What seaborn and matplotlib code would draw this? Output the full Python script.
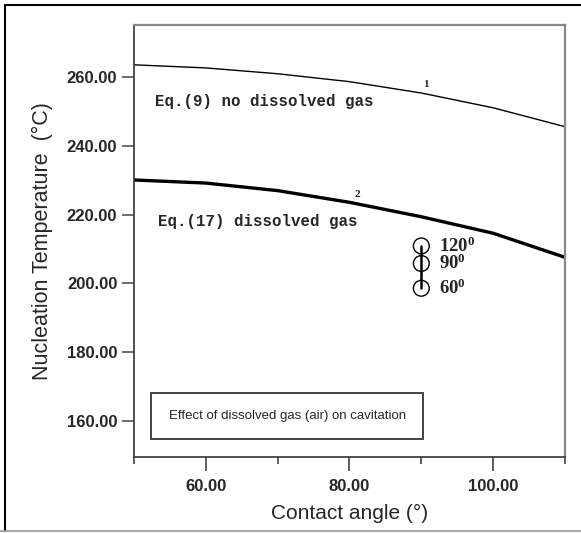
import matplotlib
matplotlib.use("Agg")
import matplotlib.pyplot as plt
import seaborn as sns
import pandas as pd
from matplotlib.patches import Rectangle
from matplotlib.lines import Line2D

# values
angle = [50, 60, 70, 80, 90, 100, 110]
temp_no_gas = [263.6, 262.7, 261.0, 258.7, 255.4, 251.1, 245.6]
temp_gas = [230.1, 229.2, 227.0, 223.6, 219.4, 214.6, 207.6]

exp_angle = [90, 90, 90]
exp_temp = [198.6, 205.8, 210.9]
exp_labels = ["60", "90", "120"]

x_ticks = [60, 80, 100]
y_ticks = [160, 180, 200, 220, 240, 260]

sns.set_style("white")
plt.rcParams["font.family"] = ["Liberation Sans", "DejaVu Sans"]
plt.rcParams["mathtext.fontset"] = "custom"
plt.rcParams["mathtext.bf"] = "Liberation Serif:bold"
plt.rcParams["mathtext.rm"] = "Liberation Serif:bold"

df1 = pd.DataFrame({"angle": angle, "T": temp_no_gas})
df2 = pd.DataFrame({"angle": angle, "T": temp_gas})
dfe = pd.DataFrame({"angle": exp_angle, "T": exp_temp})

fig = plt.figure(figsize=(5.81, 5.33), dpi=100)
ax = fig.add_axes([0.2306, 0.1432, 0.7418, 0.810])

sns.lineplot(data=df1, x="angle", y="T", color="black", linewidth=1.0, ax=ax)
sns.lineplot(data=df2, x="angle", y="T", color="black", linewidth=2.4, ax=ax)
sns.lineplot(data=dfe, x="angle", y="T", color="black", linewidth=1.8,
             estimator=None, sort=False, ax=ax)
sns.scatterplot(data=dfe, x="angle", y="T", s=130, facecolor="none",
                edgecolor="black", linewidth=1.0, zorder=5, ax=ax)

ax.set_xlim(50, 110)
ax.set_ylim(149.6, 275.2)
ax.set_xticks(x_ticks)
ax.set_xticks([50, 70, 90, 110], minor=True)
ax.set_yticks(y_ticks)
ax.set_xticklabels([f"{v:.2f}" for v in x_ticks], fontsize=12, fontweight="bold")
ax.set_yticklabels([f"{v:.2f}" for v in y_ticks], fontsize=12, fontweight="bold")
ax.tick_params(axis="x", which="major", direction="out", length=10, width=1.2,
               color="#444444", pad=6, bottom=True)
ax.tick_params(axis="x", which="minor", direction="out", length=5, width=1.2,
               color="#444444", bottom=True)
ax.tick_params(axis="y", which="major", direction="out", length=9, width=1.2,
               color="#555555", pad=3, left=True)

for side in ["left", "bottom"]:
    ax.spines[side].set_color("#333333")
    ax.spines[side].set_linewidth(1.2)
for side in ["top", "right"]:
    ax.spines[side].set_color("#888888")
    ax.spines[side].set_linewidth(1.6)

ax.set_xlabel("Contact angle (°)", fontsize=15, labelpad=7)
ax.set_ylabel("Nucleation Temperature  (°C)", fontsize=15.5, labelpad=10)

eq_font = dict(family=["Liberation Mono", "DejaVu Sans Mono"], fontweight="bold",
               fontsize=11.3, va="center", ha="left")
ax.text(52.9, 252.9, "Eq.(9) no dissolved gas", **eq_font)
ax.text(53.3, 218.0, "Eq.(17) dissolved gas", **eq_font)
ax.text(90.7, 256.6, "1", family=["Liberation Serif"], fontweight="bold",
        fontsize=8, ha="center", va="bottom")
ax.text(81.1, 224.6, "2", family=["Liberation Serif"], fontweight="bold",
        fontsize=8, ha="center", va="bottom")

for t, lab in zip(exp_temp, exp_labels):
    ax.text(92.4, t, r"$\mathbf{" + lab + "^{0}}$", fontsize=13.5,
            ha="left", va="center")

ax.add_patch(Rectangle((0.0387, 0.041), 0.632, 0.106, transform=ax.transAxes,
                       fill=False, edgecolor="#333333", linewidth=1.3, zorder=6))
ax.text(0.3573, 0.095, "Effect of dissolved gas (air) on cavitation",
        transform=ax.transAxes, fontsize=9.5, ha="center", va="center")

# outer frame of the picture
fig.add_artist(Line2D([0.0086, 1.0], [0.9906, 0.9906], color="black", linewidth=1.5))
fig.add_artist(Line2D([0.0086, 0.0086], [0.003, 0.9906], color="black", linewidth=1.5))
fig.add_artist(Line2D([0.0, 1.0], [0.003, 0.003], color="#999999", linewidth=1.2))

fig.savefig("out.png", dpi=100)
